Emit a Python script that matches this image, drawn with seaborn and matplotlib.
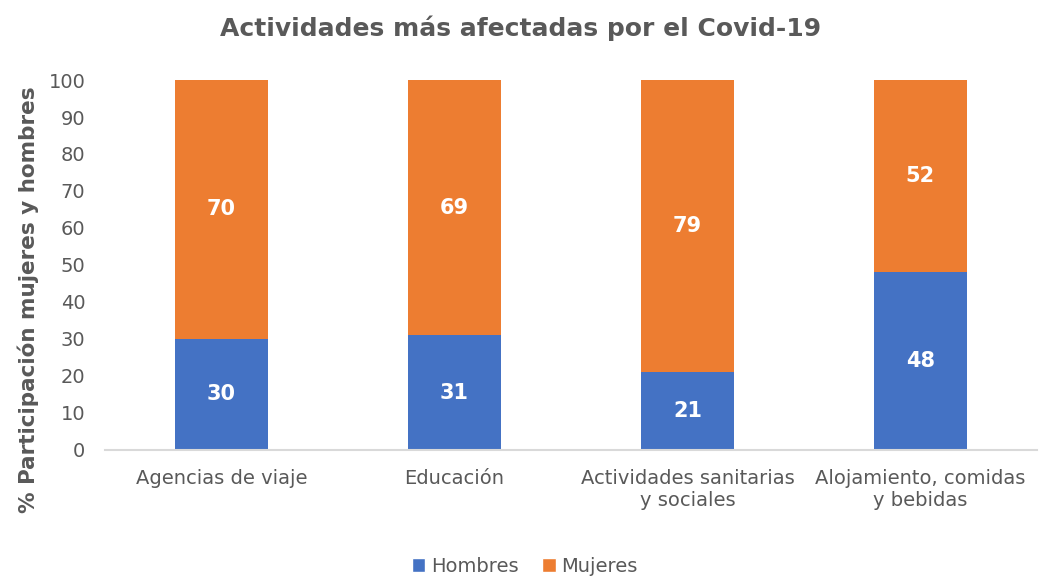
import matplotlib
matplotlib.use("Agg")
import matplotlib.pyplot as plt
import seaborn as sns
import pandas as pd
from matplotlib.patches import Patch

categorias = ["Agencias de viaje", "Educación", "Actividades sanitarias\ny sociales",
              "Alojamiento, comidas\ny bebidas"]
hombres = [30, 31, 21, 48]
mujeres = [70, 69, 79, 52]

AZUL = "#4472C4"
NARANJA = "#ED7D31"
GRIS = "#595959"

sns.set_theme(style="white")
plt.rcParams["font.family"] = ["DejaVu Sans"]

df = pd.DataFrame({"categoria": categorias, "Hombres": hombres, "Mujeres": mujeres})
df["total"] = df["Hombres"] + df["Mujeres"]

fig = plt.figure(figsize=(10.39, 5.81), dpi=100)
ax = fig.add_axes([0.101, 0.2255, 0.897, 0.6368])

# stacked: total bar underneath, men's share drawn over it
sns.barplot(data=df, x="categoria", y="total", color=NARANJA, width=0.4,
            saturation=1, linewidth=0, ax=ax)
sns.barplot(data=df, x="categoria", y="Hombres", color=AZUL, width=0.4,
            saturation=1, linewidth=0, ax=ax)

for i, (h, m) in enumerate(zip(hombres, mujeres)):
    ax.text(i, h / 2, f"{h}", ha="center", va="center", color="white",
            fontsize=15, fontweight="bold")
    ax.text(i, h + m / 2, f"{m}", ha="center", va="center", color="white",
            fontsize=15, fontweight="bold")

ax.set_ylim(0, 100)
ax.set_xlim(-0.5, 3.5)
ax.set_yticks(range(0, 101, 10))
ax.tick_params(axis="y", labelsize=14, labelcolor=GRIS, length=0, pad=14)
ax.tick_params(axis="x", labelsize=14, labelcolor=GRIS, length=0, pad=14)
ax.set_xlabel("")
ax.set_ylabel("")
for s in ["top", "right", "left"]:
    ax.spines[s].set_visible(False)
ax.spines["bottom"].set_color("#D9D9D9")
ax.spines["bottom"].set_linewidth(1.5)

fig.text(0.5015, 1 - 28 / 581, "Actividades más afectadas por el Covid-19",
         ha="center", va="center", fontsize=18, fontweight="bold", color=GRIS)
fig.text(28 / 1039, 1 - 300 / 581, "% Participación mujeres y hombres",
         ha="center", va="center", rotation=90, fontsize=15.5, fontweight="bold",
         color=GRIS)

handles = [Patch(facecolor=AZUL, label="Hombres"),
           Patch(facecolor=NARANJA, label="Mujeres")]
fig.legend(handles=handles, loc="center", bbox_to_anchor=(0.505, 1 - 566 / 581),
           ncol=2, frameon=False, fontsize=14, handlelength=0.7, handleheight=0.7,
           handletextpad=0.3, columnspacing=1.2, labelcolor=GRIS)

fig.savefig("out.png", dpi=100)
